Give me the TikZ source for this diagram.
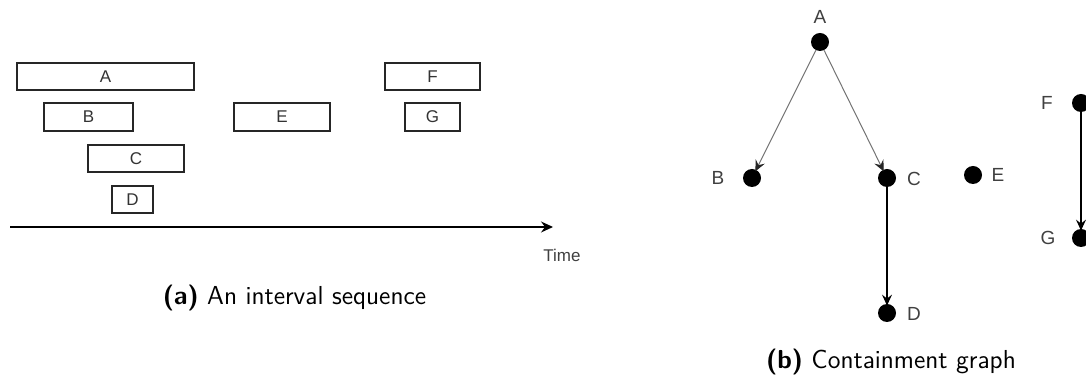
\documentclass[tikz,border=0pt]{standalone}
\usepackage{fontspec}
\newfontfamily\arial{Liberation Sans}
\usetikzlibrary{arrows.meta}
\begin{document}
\begin{tikzpicture}[x=0.5pt,y=-0.5pt,
  ivl/.style={draw=black!85,line width=0.6pt,inner sep=0pt,font=\arial\fontsize{8.5}{10}\selectfont,text=black!80},
  dot/.style={circle,fill=black,minimum size=9pt,inner sep=0pt},
  lbl/.style={font=\arial\fontsize{9.5}{11}\selectfont,text=black!75},
  garrow/.style={draw=black!55,line width=0.5pt,shorten >=-1pt,-{Stealth[length=5.5pt,width=5pt,inset=2pt,color=black!85]}},
  barrow/.style={draw=black,line width=0.6pt,shorten >=-1pt,-{Stealth[length=5.5pt,width=5pt,inset=2pt]}},
  captext/.style={font=\sffamily\fontsize{13}{15}\selectfont}]
\useasboundingbox (0,0) rectangle (1086,378);
% interval sequence
\node[ivl,minimum width=88.5pt,minimum height=13.5pt] (iA) at (105.5,76.5) {A};
\node[ivl,minimum width=44.5pt,minimum height=14pt] (iB) at (88.5,117) {B};
\node[ivl,minimum width=48pt,minimum height=13.5pt] (iC) at (136,158.5) {C};
\node[ivl,minimum width=20.5pt,minimum height=13.5pt] (iD) at (132.5,199.5) {D};
\node[ivl,minimum width=48pt,minimum height=14pt] (iE) at (282,117) {E};
\node[ivl,minimum width=47.5pt,minimum height=13.5pt] (iF) at (432.5,76.5) {F};
\node[ivl,minimum width=27.5pt,minimum height=14pt] (iG) at (432.5,117) {G};
\coordinate (t0) at (10,227);
\coordinate (t1) at (553,227);
\draw[line width=0.6pt,-{Stealth[length=6pt,width=5.5pt,inset=2pt]}] (t0) -- (t1);
\node[lbl,font=\arial\fontsize{8.5}{10}\selectfont] (time) at (562,255) {Time};
\node[captext] (capa) at (294.5,298) {\textbf{(a)} An interval sequence};
% containment graph
\node[dot] (A) at (820,42) {};
\node[dot] (B) at (752,178) {};
\node[dot] (C) at (887,178) {};
\node[dot] (D) at (887,313) {};
\node[dot] (E) at (973,175) {};
\node[dot] (F) at (1081,103) {};
\node[dot] (G) at (1081,238) {};
\node[lbl] (lA) at (820,17) {A};
\node[lbl] (lB) at (718,178) {B};
\node[lbl] (lC) at (914,179) {C};
\node[lbl] (lD) at (914,314) {D};
\node[lbl] (lE) at (998,175) {E};
\node[lbl] (lF) at (1047,103) {F};
\node[lbl] (lG) at (1048,238) {G};
\draw[garrow] (A) -- (B);
\draw[garrow] (A) -- (C);
\draw[barrow] (C) -- (D);
\draw[barrow] (F) -- (G);
\node[captext] (capb) at (891,362) {\textbf{(b)} Containment graph};
\end{tikzpicture}
\end{document}
